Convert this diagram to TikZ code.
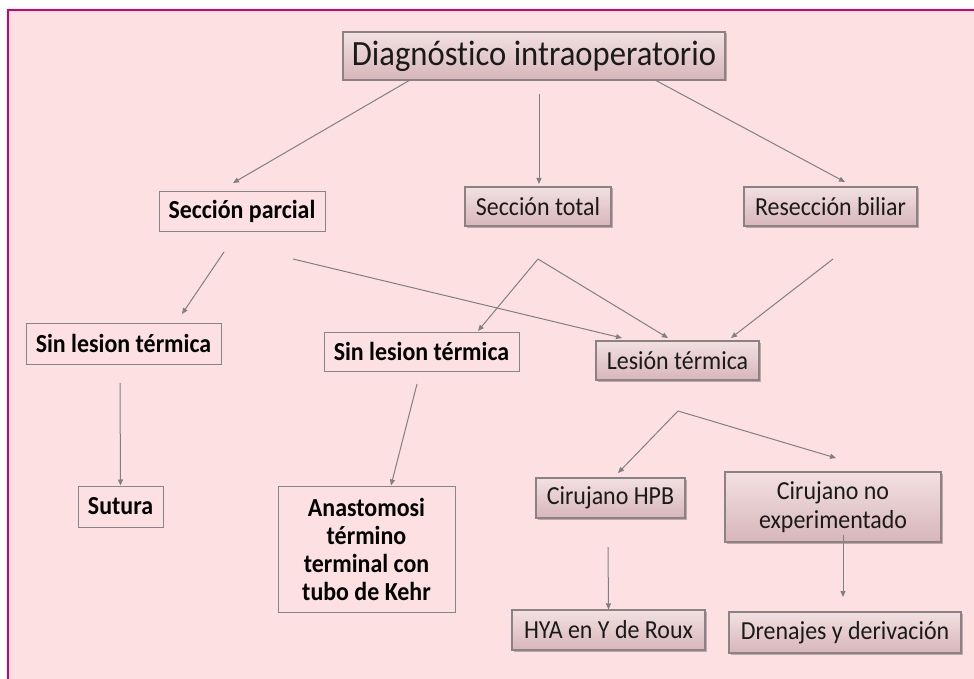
\documentclass[tikz,border=0pt]{standalone}
\usepackage{fontspec}
\newfontfamily\cali[FakeStretch=0.92,Ligatures=NoCommon]{Carlito}
\usetikzlibrary{arrows.meta,shadows}
\definecolor{fondo}{HTML}{FDE0E2}
\definecolor{marco}{HTML}{D4006E}
\definecolor{rosaA}{HTML}{F2E0E2}
\definecolor{rosaB}{HTML}{D7B6BA}
\definecolor{borde}{HTML}{8C8283}
\definecolor{texto}{HTML}{1A1A1A}
\tikzset{
  caja/.style={draw=borde, line width=1.2pt, top color=rosaA, bottom color=rosaB,
    drop shadow={shadow xshift=1.5pt, shadow yshift=-1.5pt, fill=black, opacity=.25},
    inner sep=0pt, align=center, text=texto, font=\cali\fontsize{26}{29}\selectfont},
  plana/.style={draw=gray!95, line width=1pt, fill=fondo, inner sep=0pt, align=center,
    text=black, font=\cali\bfseries\fontsize{26}{28}\selectfont},
  flecha/.style={draw=gray, line width=1pt, -{Triangle[length=6pt,width=5pt]}}
}
\begin{document}
\begin{tikzpicture}[x=1pt,y=-1pt]
\useasboundingbox (0,0) rectangle (974,679);
\fill[fondo] (8,10) rectangle (974,679);
\draw[marco,line width=2.6pt] (8,679) -- (8,10) -- (974,10);

% nodos
\node[caja, minimum width=382pt, minimum height=48pt, font=\cali\fontsize{35.5}{38}\selectfont] (diag) at (534,56) {Diagnóstico intraoperatorio};
\node[plana, minimum width=166pt, minimum height=39pt] (secparc) at (242,211.5) {Sección parcial};
\node[caja, minimum width=146pt, minimum height=39pt] (sectot) at (538,206.5) {Sección total};
\node[caja, minimum width=173pt, minimum height=39pt] (resec) at (830.5,206.5) {Resección biliar};
\node[plana, minimum width=195pt, minimum height=41pt] (sinlesA) at (123.5,343.5) {Sin lesion térmica};
\node[plana, minimum width=195pt, minimum height=39pt] (sinlesB) at (421.5,351.5) {Sin lesion térmica};
\node[caja, minimum width=163pt, minimum height=39pt] (lesion) at (677.5,360.5) {Lesión térmica};
\node[plana, minimum width=85pt, minimum height=41pt] (sutura) at (120.5,506.5) {Sutura};
\node[plana, minimum width=177pt, minimum height=126pt] (anast) at (366.5,549) {Anastomosi\\término\\terminal con\\tubo de Kehr};
\node[caja, minimum width=149pt, minimum height=40pt] (cirhpb) at (610.5,498) {Cirujano HPB};
\node[caja, minimum width=216pt, minimum height=70pt] (cirno) at (833,507) {Cirujano no\\experimentado};
\node[caja, minimum width=193pt, minimum height=40pt] (hya) at (608.5,630) {HYA en Y de Roux};
\node[caja, minimum width=232pt, minimum height=41pt] (dren) at (845,632.5) {Drenajes y derivación};

% puntos de las flechas
\coordinate (d1) at (410,80);   \coordinate (sp-in) at (233,183);
\coordinate (d2) at (539,94);   \coordinate (st-in) at (539,184);
\coordinate (d3) at (655,80);   \coordinate (rb-in) at (845,182);
\coordinate (sp1) at (224,252); \coordinate (sla-in) at (182,314);
\coordinate (sp2) at (293,259); \coordinate (lt-in1) at (622,338);
\coordinate (st1) at (538,259); \coordinate (slb-in) at (478,331); \coordinate (lt-in2) at (668,338);
\coordinate (rb1) at (833,259); \coordinate (lt-in3) at (731,338);
\coordinate (sla1) at (120,383);
\coordinate (slb1) at (417,384);
\coordinate (lt1) at (678,411); \coordinate (hpb-in) at (618,473); \coordinate (cno-in) at (836,458);
\coordinate (hpb1) at (608,547);
\coordinate (cno1) at (843,535); \coordinate (dr-in) at (843,597);

% flechas
\draw[flecha] (d1) -- (sp-in);
\draw[flecha] (d2) -- (st-in);
\draw[flecha] (d3) -- (rb-in);
\draw[flecha] (sp1) -- (sla-in);
\draw[flecha] (sp2) -- (lt-in1);
\draw[flecha] (st1) -- (slb-in);
\draw[flecha] (st1) -- (lt-in2);
\draw[flecha] (rb1) -- (lt-in3);
\draw[flecha] (sla1) -- (sutura.north);
\draw[flecha] (slb1) -- ([xshift=24.5pt]anast.north);
\draw[flecha] (lt1) -- (hpb-in);
\draw[flecha] (lt1) -- (cno-in);
\draw[flecha] (hpb1) -- (hya.north);
\draw[flecha] (cno1) -- (dr-in);
\end{tikzpicture}
\end{document}
